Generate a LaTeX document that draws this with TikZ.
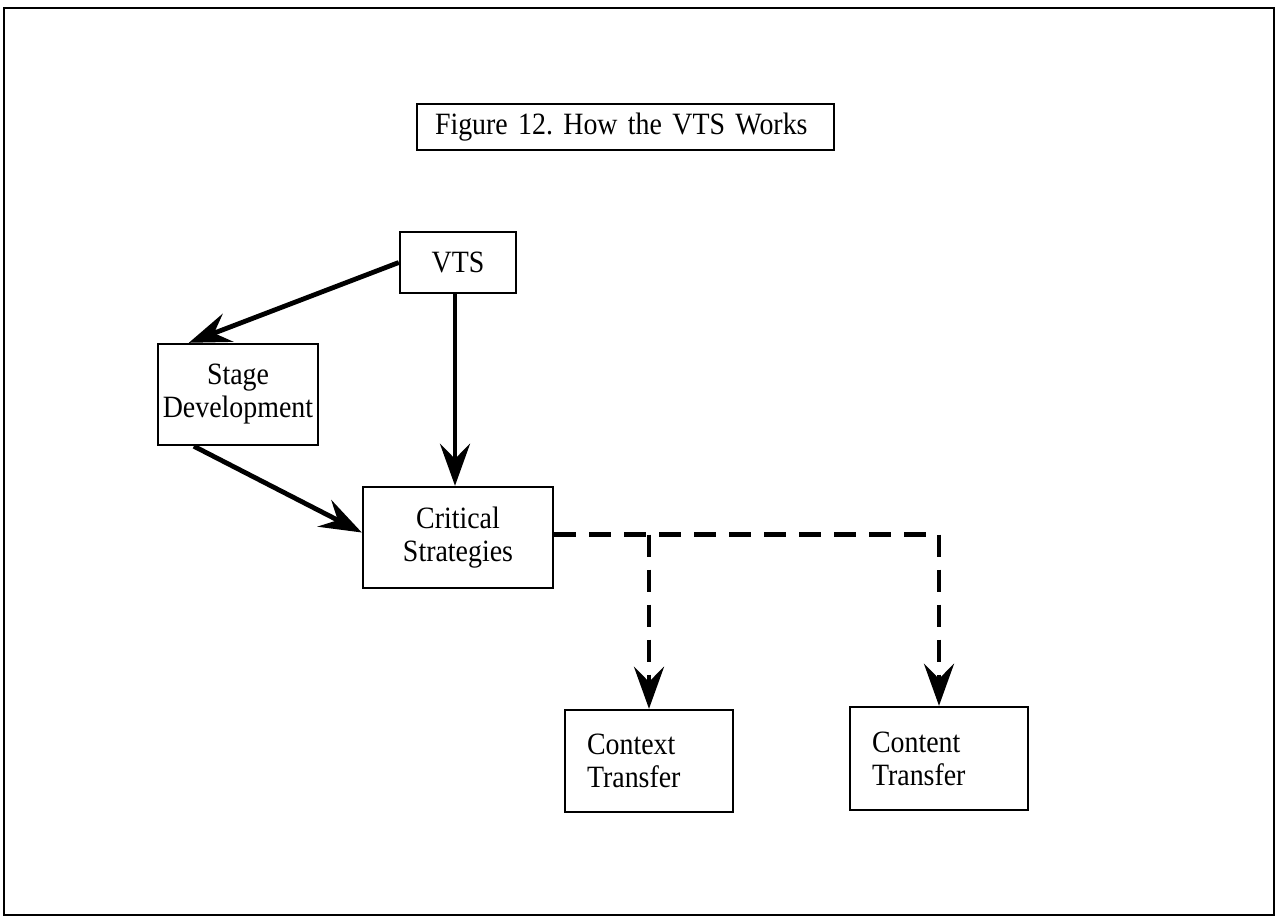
\documentclass[tikz,border=0pt]{standalone}
\usepackage{fontspec}
\setmainfont{Liberation Serif}[FakeStretch=0.9]
\usetikzlibrary{arrows.meta}
\begin{document}
\frenchspacing
\begin{tikzpicture}[x=0.5pt,y=-0.5pt,
    box/.style={draw, line width=1.2pt, inner sep=0pt, font=\fontsize{15.5}{16.5}\selectfont},
    arr/.style={line width=2.4pt, -{Stealth[length=21pt,width=15pt,inset=7.5pt]}},
    darr/.style={arr, dash pattern=on 11pt off 6.5pt}]
  \useasboundingbox (0,0) rectangle (1279,919);
  \draw[line width=1.2pt] (4,8) rectangle (1274,915);
  % boxes
  \node[box, text width=190.5pt, inner xsep=9pt, minimum height=23pt, align=left] (title) at (625.5,127) {Figure 12.~How the VTS Works};
  \node[box, minimum width=58pt, minimum height=30.5pt] (vts) at (458,262.5) {VTS};
  \node[box, minimum width=80pt, minimum height=50.5pt, align=center] (stage) at (238,394.5) {Stage\\Development};
  \node[box, minimum width=95pt, minimum height=50.5pt, align=center] (critical) at (458,537.5) {Critical\\Strategies};
  \node[box, text width=62pt, inner xsep=11pt, minimum height=51pt, align=left] (context) at (649,761) {Context\\Transfer};
  \node[box, text width=67pt, inner xsep=11pt, minimum height=51.5pt, align=left] (content) at (939,758.5) {Content\\Transfer};
  % connectors
  \draw[arr] (vts.west) -- ([xshift=16pt]stage.north west);
  \draw[arr] ([xshift=-1.5pt]vts.south) -- ([xshift=-1.5pt]critical.north);
  \draw[arr] ([xshift=18.5pt]stage.south west) -- ([yshift=2.5pt]critical.west);
  \draw[line width=2.4pt, dash pattern=on 11pt off 6.5pt] ([yshift=1.5pt]critical.east) -- ([yshift=1.5pt]content.north |- critical.east);
  \draw[darr] ([yshift=1.5pt]context.north |- critical.east) -- (context.north);
  \draw[darr] ([yshift=1.5pt]content.north |- critical.east) -- (content.north);
\end{tikzpicture}
\end{document}
